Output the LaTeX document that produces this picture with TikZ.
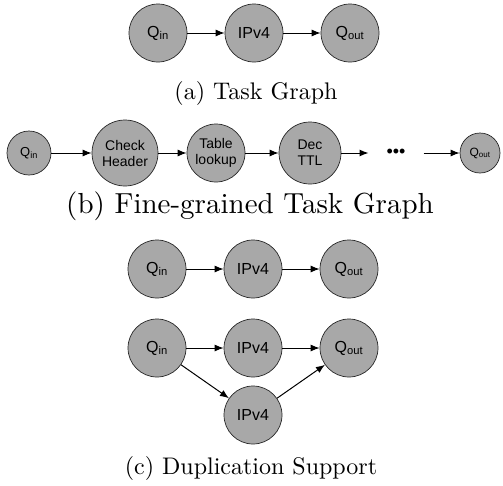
\documentclass[tikz,border=0pt]{standalone}
\usepackage{fontspec}
\setsansfont{Liberation Sans}
\newfontfamily\capfont[Extension=.otf]{lmroman10-regular}
\usetikzlibrary{arrows.meta}

\begin{document}
\begin{tikzpicture}[x=1pt,y=-1pt,line width=1pt,>={Latex[length=9pt,width=7pt]},
  my node/.style={circle,draw=black!85,line width=0.7pt,fill=black!34,inner sep=0pt,
    minimum size=58pt,font=\sffamily\fontsize{16}{16}\selectfont},
  small node/.style={my node,minimum size=44pt,font=\sffamily\fontsize{13}{13}\selectfont},
  text node/.style={my node,align=center,font=\sffamily\fontsize{14}{16}\selectfont},
  caption/.style={inner sep=0pt,font=\capfont\fontsize{24}{24}\selectfont},
  node distance=96pt]
  \useasboundingbox (0,0) rectangle (503,485);
  % (a) TASK GRAPH
  \node[my node] (qin) at (158,33) {Q\textsubscript{in}};
  \node[my node] (ipv) [right of=qin] {IPv4};
  \node[my node] (qout) [right of=ipv] {Q\textsubscript{out}};
  \node[caption] (capa) at (256,93) {(a) Task Graph};
  \path[->]
   (qin) edge (ipv)
   (ipv) edge (qout);
  % (b) FINE-GRAINED TASK GRAPH
  \node[small node] (fqin) at (29,153) {Q\textsubscript{in}};
  \node[text node,minimum size=66pt] (check) at (125,153) {Check\\Header};
  \node[text node] (table) at (216,153) {Table\\lookup};
  \node[text node,minimum size=62pt] (dec) at (310,153) {Dec\\TTL};
  \node[minimum width=54pt,inner sep=0pt,font=\sffamily\fontsize{18}{18}\selectfont] (dots) at (396,153) {\textbullet\textbullet\textbullet};
  \node[small node,minimum size=40pt,font=\sffamily\fontsize{12}{12}\selectfont] (fqout) at (480,153) {Q\textsubscript{out}};
  \node[caption,font=\capfont\fontsize{29}{29}\selectfont] (capb) at (250,206) {(b) Fine-grained Task Graph};
  \path[->]
   (fqin) edge (check)
   (check) edge (table)
   (table) edge (dec)
   (dec) edge (dots)
   (dots) edge (fqout);
  % (c) DUPLICATION SUPPORT
  \node[my node] (dqin) at (157,269) {Q\textsubscript{in}};
  \node[my node] (dipv) [right of=dqin] {IPv4};
  \node[my node] (dqout) [right of=dipv] {Q\textsubscript{out}};
  \node[my node] (rqin) at (157,348) {Q\textsubscript{in}};
  \node[my node] (ripv) [right of=rqin] {IPv4};
  \node[my node] (rqout) [right of=ripv] {Q\textsubscript{out}};
  \node[my node] (cipv) at (253,415) {IPv4};
  \node[caption] (capc) at (251,468) {(c) Duplication Support};
  \path[->]
   (dqin) edge (dipv)
   (dipv) edge (dqout)
   (rqin) edge (ripv)
          edge (cipv)
   (ripv) edge (rqout)
   (cipv) edge (rqout);
\end{tikzpicture}
\end{document}
